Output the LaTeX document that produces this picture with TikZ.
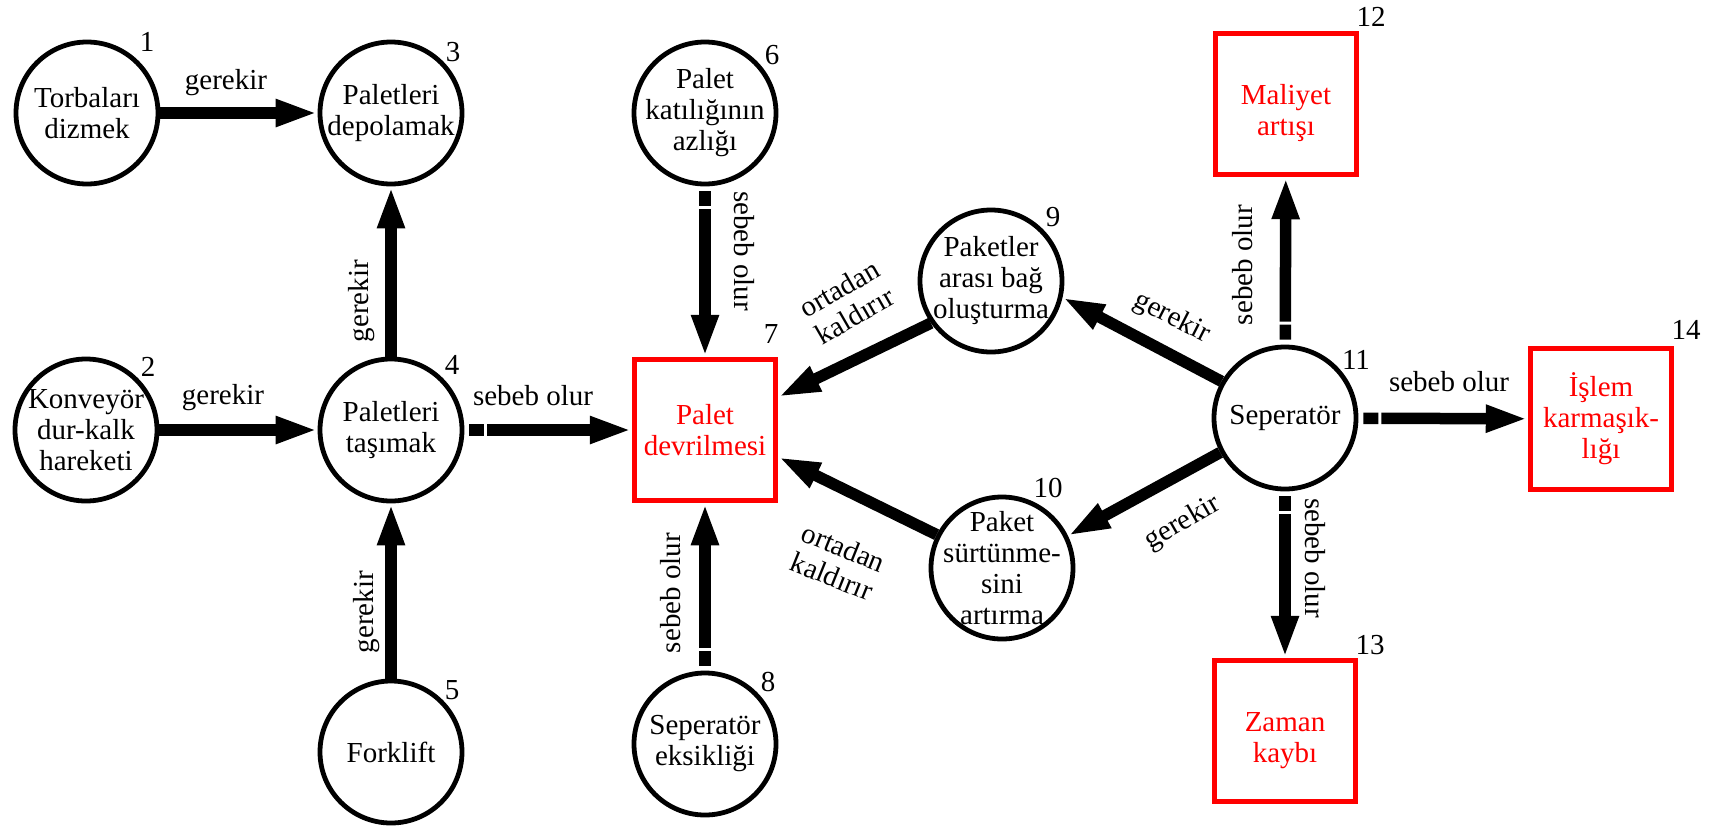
\documentclass[tikz,border=0pt]{standalone}
\usepackage{fontspec}
\setmainfont{Liberation Serif}
\newfontfamily\tnr{Liberation Serif}
\usetikzlibrary{arrows.meta}
\begin{document}
\begin{tikzpicture}[x=1pt,y=-1pt,
  txt/.style={font=\tnr\fontsize{29}{31}\selectfont, align=center, inner sep=0pt},
  rtext/.style={txt, text=red},
  circ/.style={circle, draw=black, line width=4.8pt, minimum size=142pt, inner sep=0pt},
  rbox/.style={rectangle, draw=red, line width=5.5pt, minimum width=141pt, minimum height=141pt, inner sep=0pt},
  arr/.style={line width=11.5pt, -{Triangle[length=42pt,width=25pt]}},
  sarr/.style={arr, dash pattern=on 0pt off 5pt on 15pt off 3pt on 3000pt},
]
\useasboundingbox (0,0) rectangle (1712,828);

% nodes
\node[circ, label={[txt]center:{Torbaları\\dizmek}}] (n1) at (87,113) {};
\node[circ, label={[txt]center:{Konveyör\\dur-kalk\\hareketi}}] (n2) at (86,430) {};
\node[circ, label={[txt]center:{Paletleri\\depolamak}}] (n3) at (391,113) {};
\node[circ, label={[txt]center:{Paletleri\\taşımak}}] (n4) at (391,430) {};
\node[circ, label={[txt]center:{Forklift}}] (n5) at (391,752) {};
\node[circ, label={[txt]center:{Palet\\katılığının\\azlığı}}] (n6) at (705,113) {};
\node[rbox, label={[rtext]center:{Palet\\devrilmesi}}] (n7) at (705,430) {};
\node[circ, label={[txt]center:{Seperatör\\eksikliği}}] (n8) at (705,744) {};
\node[circ, label={[txt]center:{Paketler\\arası bağ\\oluşturma}}] (n9) at (991,281) {};
\node[circ, label={[txt]center:{Paket\\sürtünme-\\sini\\artırma}}] (n10) at (1002,568) {};
\node[circ, label={[txt]center:{Seperatör}}] (n11) at (1285,418) {};
\node[rbox, label={[rtext, yshift=-9pt]center:{Maliyet\\artışı}}] (n12) at (1286,104) {};
\node[rbox, label={[rtext, yshift=-10pt]center:{Zaman\\kaybı}}] (n13) at (1285,731) {};
\node[rbox, label={[rtext]center:{İşlem\\karmaşık-\\lığı}}] (n14) at (1601,419) {};

% numbers
\node[txt] (k1) at (147,42) {1};
\node[txt] (k2) at (148,367) {2};
\node[txt] (k3) at (453,52) {3};
\node[txt] (k4) at (452,365) {4};
\node[txt] (k5) at (452,690) {5};
\node[txt] (k6) at (772,55) {6};
\node[txt] (k7) at (771,334) {7};
\node[txt] (k8) at (768,682) {8};
\node[txt] (k9) at (1053,217) {9};
\node[txt] (k10) at (1048,488) {10};
\node[txt] (k11) at (1356,360) {11};
\node[txt] (k12) at (1371,17) {12};
\node[txt] (k13) at (1370,645) {13};
\node[txt] (k14) at (1686,330) {14};

% connectors
\draw[arr] (n1) -- (n3);
\draw[arr] (n2) -- (n4);
\draw[arr] (n4) -- (n3);
\draw[arr] (n5) -- (n4);
\draw[sarr] (n4) -- (n7);
\draw[sarr] (n6) -- (n7);
\draw[sarr] (n8) -- (n7);
\draw[arr] (n9.215) -- ([yshift=33pt]n7.east);
\draw[arr] (n10.153) -- ([yshift=-27pt]n7.east);
\draw[arr] (n11.150) -- (n9.-13);
\draw[arr] (n11.208) -- (n10.26);
\draw[sarr] (n11) -- (n12);
\draw[sarr] (n11) -- (n13);
\draw[sarr] (n11) -- (n14);

% connector labels
\node[txt] (g13) at (226,83) {gerekir};
\node[txt] (g24) at (223,398) {gerekir};
\node[txt, rotate=90] (g43) at (362,301) {gerekir};
\node[txt, rotate=90] (g54) at (367,612) {gerekir};
\node[txt] (s47) at (533,396) {sebeb olur};
\node[txt, rotate=-90] (s67) at (744,251) {sebeb olur};
\node[txt, rotate=90] (s87) at (671,593) {sebeb olur};
\node[txt, rotate=30] (o97) at (847,302) {ortadan\\kaldırır};
\node[txt, rotate=-22] (o107) at (838,562) {ortadan\\kaldırır};
\node[txt, rotate=-27] (g119) at (1172,318) {gerekir};
\node[txt, rotate=30] (g1110) at (1183,523) {gerekir};
\node[txt, rotate=90] (s1112) at (1243,265) {sebeb olur};
\node[txt, rotate=-90] (s1113) at (1315,558) {sebeb olur};
\node[txt] (s1114) at (1449,382) {sebeb olur};
\end{tikzpicture}
\end{document}
